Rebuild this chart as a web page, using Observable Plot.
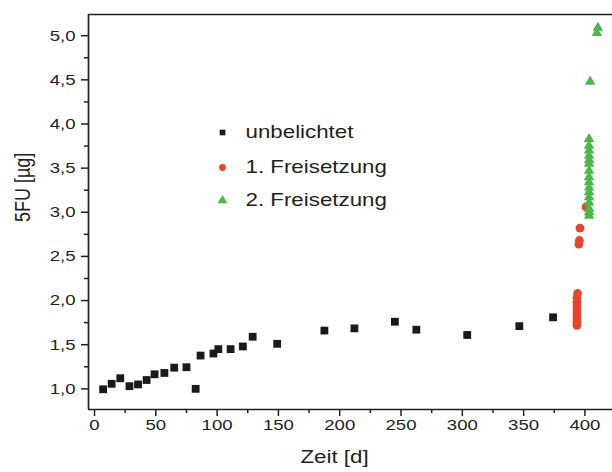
<!DOCTYPE html>
<html>
<head>
<meta charset="utf-8">
<script src="https://cdn.jsdelivr.net/npm/d3@7"></script>
<script src="https://cdn.jsdelivr.net/npm/@observablehq/plot@0.6"></script>
<style>
  html, body { margin: 0; padding: 0; background: #fff; }
  #chart { width: 612px; height: 472px; overflow: hidden; }
</style>
</head>
<body>
<div id="chart"></div>
<script>
// ---- data ----
const unbelichtetX = [7, 14, 21, 28.5, 35.5, 42.5, 49, 57, 65, 75, 82.5, 86.5, 97, 101, 111, 121, 129, 149, 187.5, 212, 245, 262.5, 304, 346.5, 374];
const unbelichtetY = [0.995, 1.057, 1.12, 1.03, 1.05, 1.10, 1.165, 1.18, 1.24, 1.245, 1.0, 1.377, 1.40, 1.45, 1.45, 1.48, 1.59, 1.51, 1.66, 1.685, 1.76, 1.67, 1.61, 1.71, 1.81];

const frei1X = [393.5, 393.5, 393.5, 393.5, 393.5, 393.5, 393.5, 393.5, 393.5, 394, 395, 395.5, 396, 401];
const frei1Y = [1.72, 1.75, 1.78, 1.82, 1.86, 1.90, 1.94, 1.98, 2.03, 2.08, 2.64, 2.68, 2.82, 3.06];

const frei2X = [403.4, 403.4, 403.4, 403.4, 403.4, 403.4, 403.4, 403.4, 403.4, 403.4, 403.4, 403.4, 403.4, 403.4, 403.4, 403.4, 404.3, 409.8, 410.6];
const frei2Y = [2.96, 3.00, 3.04, 3.11, 3.17, 3.23, 3.28, 3.34, 3.40, 3.47, 3.55, 3.59, 3.64, 3.70, 3.755, 3.83, 4.48, 5.03, 5.09];

const legendLabels = ["unbelichtet", "1. Freisetzung", "2. Freisetzung"];
const xLabel = "Zeit [d]";
const yLabel = "5FU [µg]";

const xMajor = [0, 50, 100, 150, 200, 250, 300, 350, 400];
const xMinor = [25, 75, 125, 175, 225, 275, 325, 375];
const yMajor = [1.0, 1.5, 2.0, 2.5, 3.0, 3.5, 4.0, 4.5, 5.0];
const yMinor = [1.25, 1.75, 2.25, 2.75, 3.25, 3.75, 4.25, 4.75];

const xDomain = [-4.9, 422.5];
const yDomain = [0.766, 5.24];

// ---- styles ----
const cBlack = "#1a1a1a";
const cRed = "#e8442a";
const cGreen = "#4cb848";
const ink = "#231f20";
const font = "'Liberation Sans', Arial, Helvetica, sans-serif";
const fmtY = d => d.toFixed(1).replace(".", ",");

const legendMarks = [];
const legendSymbols = ["square", "circle", "triangle"];
const legendColors = [cBlack, cRed, cGreen];
const legendR = [3.2, 3.4, 3.6];
const legendDy = [118, 153, 186];
legendLabels.forEach((lab, i) => {
  legendMarks.push(Plot.dot([lab], {frameAnchor: "top-left", dx: 134, dy: legendDy[i], symbol: legendSymbols[i], r: legendR[i], fill: legendColors[i]}));
  legendMarks.push(Plot.text([lab], {frameAnchor: "top-left", dx: 157, dy: legendDy[i], text: d => d, textAnchor: "start", lineAnchor: "middle", fontSize: 18, fill: ink}));
});

const chart = Plot.plot({
  width: 612,
  height: 472,
  marginLeft: 88,
  marginRight: 0,
  marginTop: 14,
  marginBottom: 63,
  x: {domain: xDomain},
  y: {domain: yDomain},
  style: {fontFamily: font, fontSize: "15px", color: ink, background: "#fff", overflow: "visible"},
  marks: [
    Plot.axisX(xMajor, {tickSize: 7, tickPadding: 3, strokeWidth: 1.5, stroke: ink, fill: ink, fontSize: 15, label: null, tickFormat: d => String(d)}),
    Plot.axisX(xMinor, {tickSize: 4, strokeWidth: 1.5, stroke: ink, label: null, tickFormat: () => ""}),
    Plot.axisY(yMajor, {tickSize: 7, tickPadding: 6, strokeWidth: 1.5, stroke: ink, fill: ink, fontSize: 15, label: null, tickFormat: fmtY}),
    Plot.axisY(yMinor, {tickSize: 4, strokeWidth: 1.5, stroke: ink, label: null, tickFormat: () => ""}),
    Plot.ruleX([xDomain[0]], {stroke: ink, strokeWidth: 1.7}),
    Plot.ruleY([yDomain[0]], {stroke: ink, strokeWidth: 1.7}),
    Plot.ruleY([yDomain[1]], {stroke: ink, strokeWidth: 1.7}),
    Plot.text([xLabel], {frameAnchor: "bottom", dx: -16, dy: 48, text: d => d, lineAnchor: "middle", fontSize: 18, fill: ink}),
    Plot.text([yLabel], {frameAnchor: "left", dx: -66, dy: 10, rotate: -90, text: d => d, lineAnchor: "middle", fontSize: 18, fill: ink}),
    Plot.dot(unbelichtetY, {x: unbelichtetX, y: unbelichtetY, symbol: "square", r: 4.4, fill: cBlack}),
    Plot.dot(frei1Y, {x: frei1X, y: frei1Y, symbol: "circle", r: 4.4, fill: cRed}),
    Plot.dot(frei2Y, {x: frei2X, y: frei2Y, symbol: "triangle", r: 3.9, fill: cGreen}),
    ...legendMarks
  ]
});

document.getElementById("chart").appendChild(chart);

// The reference glyphs are horizontally widened; stretch each text around its own anchor.
const S = 1.24;
chart.querySelectorAll("text").forEach(t => {
  if (!t.textContent) return;
  let b;
  try { b = t.getBBox(); } catch (e) { return; }
  if (!isFinite(b.x) || !isFinite(b.width)) return;
  const anchor = getComputedStyle(t).textAnchor;
  const ax = anchor === "end" ? b.x + b.width : anchor === "middle" ? b.x + b.width / 2 : b.x;
  const ay = b.y + b.height / 2;
  const tr = t.getAttribute("transform") || "";
  const sc = /rotate/.test(tr) ? `scale(1,${S})` : `scale(${S},1)`;
  t.setAttribute("transform", `${tr} translate(${ax},${ay}) ${sc} translate(${-ax},${-ay})`.trim());
});
</script>
</body>
</html>
